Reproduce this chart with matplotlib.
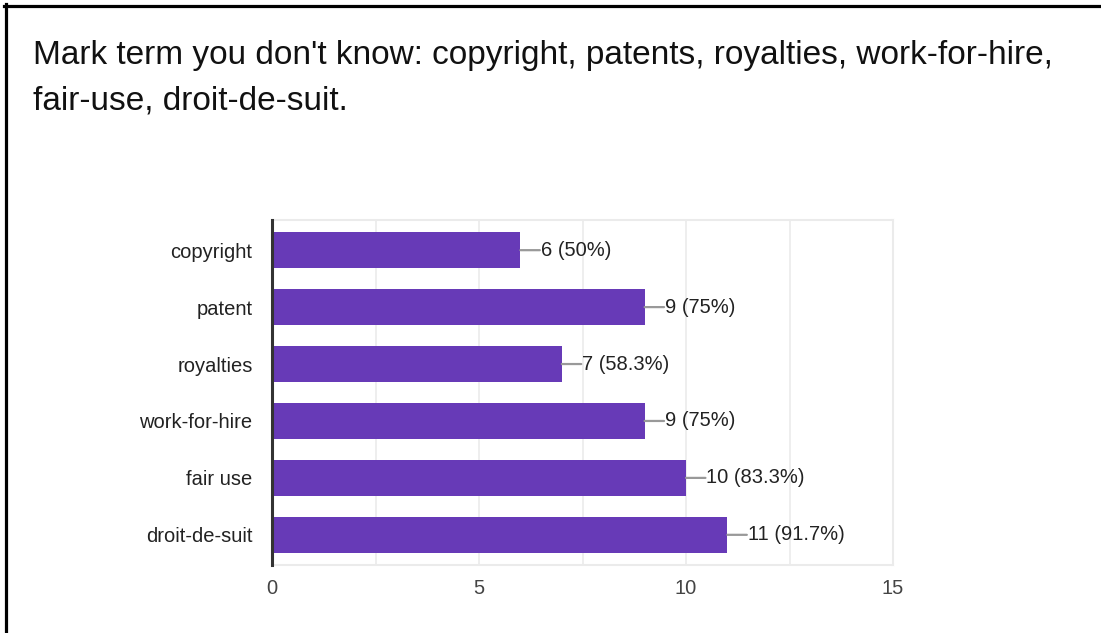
import matplotlib.pyplot as plt
from matplotlib.lines import Line2D

plt.rcParams['font.family'] = ['Liberation Sans', 'DejaVu Sans']

terms = ["copyright", "patent", "royalties", "work-for-hire", "fair use", "droit-de-suit"]
counts = [6, 9, 7, 9, 10, 11]
percents = ["50%", "75%", "58.3%", "75%", "83.3%", "91.7%"]
x_ticks = [0, 5, 10, 15]

title = "Mark term you don't know: copyright, patents, royalties, work-for-hire,\nfair-use, droit-de-suit."

W, H = 1101, 633
fig = plt.figure(figsize=(W / 100, H / 100), dpi=100)
fig.patch.set_facecolor("white")

# black frame on top and left edges
fig.add_artist(Line2D([5.5 / W, 5.5 / W], [0, 1 - 4 / H], color="black", lw=2.3,
                      transform=fig.transFigure))
fig.add_artist(Line2D([4 / W, 1], [1 - 5.5 / H, 1 - 5.5 / H], color="black", lw=2.3,
                      transform=fig.transFigure))

fig.text(33 / W, 1 - 110 / H, title, fontsize=24, color="#111111",
         ha="left", va="baseline", linespacing=1.64)

ax = fig.add_axes([272 / W, 1 - 565 / H, (893 - 272) / W, (565 - 220) / H])
y = list(range(len(terms)))
ax.barh(y, counts, height=0.63, color="#673ab7", zorder=3)

ax.set_xlim(0, 15)
ax.set_ylim(len(terms) - 0.47, -0.53)
ax.set_xticks(x_ticks)
ax.set_xticks([2.5, 7.5, 12.5], minor=True)
ax.set_yticks(y)
ax.set_yticklabels(terms)
ax.tick_params(axis="both", which="both", length=0, labelsize=14.5, labelcolor="#222222")
ax.tick_params(axis="x", pad=10, labelcolor="#444444")
ax.tick_params(axis="y", pad=14)
ax.grid(axis="x", which="both", color="#ebebeb", lw=1.2, zorder=0)

for side in ["top", "right", "bottom"]:
    ax.spines[side].set_color("#ebebeb")
    ax.spines[side].set_linewidth(1.5)
ax.spines["left"].set_color("#333333")
ax.spines["left"].set_linewidth(2.2)
ax.spines["left"].set_zorder(4)

# value labels with a short leader line
for yi, c, p in zip(y, counts, percents):
    ax.annotate("", xy=(c, yi), xytext=(14, 0), textcoords="offset points",
                arrowprops=dict(arrowstyle="-", color="#999999", lw=1.6,
                                shrinkA=0, shrinkB=0), zorder=4)
    ax.annotate(f"{c} ({p})", xy=(c, yi), xytext=(14.5, 0), textcoords="offset points",
                ha="left", va="center", fontsize=14.5, color="#222222")

fig.savefig("out.png", dpi=100, facecolor="white")
